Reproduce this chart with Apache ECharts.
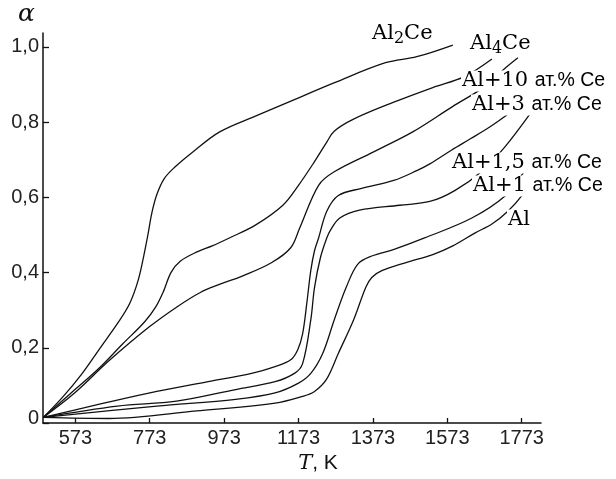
<!DOCTYPE html>
<html>
<head>
<meta charset="utf-8">
<script src="https://cdn.jsdelivr.net/npm/echarts@6/dist/echarts.min.js"></script>
<style>
  html, body { margin: 0; padding: 0; background: #fff; }
  #chart { width: 616px; height: 479px; }
</style>
</head>
<body>
<div id="chart"></div>
<script>
// ticks
var xTicks = [573, 773, 973, 1173, 1373, 1573, 1773];
var yTicks = [0, 0.2, 0.4, 0.6, 0.8, 1.0];

// curves, [T (K), alpha]
var al2Ce = [[487,0.015],[540,0.07],[590,0.13],[640,0.2],[690,0.27],[720,0.32],[742,0.38],[756,0.44],[768,0.5],[779,0.56],[793,0.61],[812,0.65],[840,0.68],[888,0.72],[961,0.774],[1057,0.816],[1162,0.86],[1270,0.905],[1407,0.958],[1491,0.974],[1588,1.005]];
var al4Ce = [[487,0.015],[557,0.076],[633,0.142],[700,0.21],[760,0.27],[790,0.31],[810,0.35],[830,0.4],[855,0.43],[900,0.455],[941,0.471],[987,0.492],[1057,0.526],[1131,0.579],[1173,0.632],[1216,0.695],[1249,0.747],[1269,0.776],[1321,0.808],[1429,0.853],[1534,0.892],[1619,0.921],[1693,0.968]];
var al10 = [[487,0.015],[570,0.079],[664,0.166],[771,0.255],[845,0.308],[909,0.347],[962,0.369],[1025,0.392],[1100,0.426],[1152,0.466],[1176,0.518],[1227,0.632],[1269,0.668],[1375,0.721],[1480,0.774],[1588,0.842],[1666,0.889],[1700,0.918],[1733,0.947],[1763,0.971]];
var al3 = [[487,0.015],[638,0.05],[792,0.084],[930,0.11],[1047,0.132],[1110,0.15],[1152,0.168],[1171,0.195],[1184,0.237],[1195,0.316],[1206,0.405],[1216,0.458],[1227,0.492],[1249,0.563],[1280,0.605],[1343,0.624],[1429,0.645],[1491,0.671],[1526,0.689],[1585,0.726],[1634,0.755],[1687,0.787],[1736,0.821]];
var al15 = [[487,0.015],[686,0.045],[845,0.058],[1004,0.089],[1110,0.11],[1162,0.132],[1184,0.158],[1206,0.274],[1216,0.36],[1232,0.44],[1249,0.492],[1259,0.513],[1284,0.545],[1337,0.566],[1445,0.579],[1526,0.589],[1593,0.618],[1668,0.671],[1728,0.734],[1795,0.821]];
var al1 = [[487,0.015],[792,0.045],[1004,0.063],[1110,0.08],[1173,0.106],[1206,0.132],[1238,0.185],[1269,0.274],[1301,0.36],[1332,0.422],[1370,0.444],[1428,0.461],[1512,0.492],[1639,0.545],[1730,0.605],[1776,0.663],[1790,0.687]];
var al = [[487,0.015],[664,0.012],[899,0.032],[1110,0.053],[1184,0.071],[1216,0.084],[1248,0.116],[1280,0.185],[1321,0.274],[1354,0.361],[1370,0.387],[1397,0.405],[1460,0.426],[1534,0.448],[1588,0.471],[1647,0.505],[1693,0.529],[1736,0.563],[1774,0.605],[1782,0.624]];

var serif = 'DejaVu Serif';
var sans = 'Liberation Sans';

var chart = echarts.init(document.getElementById('chart'));

function curve(data) {
  return {
    type: 'line',
    data: data,
    showSymbol: false,
    smooth: 0.35,
    lineStyle: { color: '#111', width: 1.3 },
    silent: true
  };
}

var rich = {
  s: { fontFamily: serif, fontSize: 21, color: '#111' },
  sub: { fontFamily: serif, fontSize: 16, color: '#111', padding: [9, 0, 0, 0] },
  a: { fontFamily: sans, fontSize: 19.5, color: '#111' }
};

function label(x, y, text) {
  return {
    type: 'text',
    x: x, y: y, z: 100,
    style: {
      text: text, rich: rich, verticalAlign: 'middle',
      backgroundColor: '#fff', padding: [0, 1]
    }
  };
}

var option = {
  animation: false,
  backgroundColor: '#fff',
  grid: { left: 43, right: 75, top: 33, bottom: 52 },
  xAxis: {
    type: 'value', min: 486, max: 1825,
    name: '{t|T}{k|, K}',
    nameLocation: 'middle', nameGap: 30,
    nameTextStyle: {
      padding: [0, 0, 0, 52],
      rich: {
        t: { fontFamily: serif, fontStyle: 'italic', fontSize: 21, color: '#111' },
        k: { fontFamily: sans, fontSize: 21, color: '#111' }
      }
    },
    axisLine: { lineStyle: { color: '#111', width: 1.5 } },
    axisTick: { inside: true, length: 5, customValues: xTicks, lineStyle: { color: '#111', width: 1.3 } },
    axisLabel: {
      customValues: xTicks, fontFamily: sans, fontSize: 20, color: '#222', margin: 5,
      formatter: function (v) { return String(v); }
    },
    splitLine: { show: false }
  },
  yAxis: {
    type: 'value', min: 0, max: 1.037,
    name: 'α', nameLocation: 'end', nameGap: 6,
    nameTextStyle: { fontFamily: serif, fontStyle: 'italic', fontSize: 25, color: '#111', align: 'right', padding: [0, 8, 0, 0] },
    axisLine: { show: true, lineStyle: { color: '#111', width: 1.5 } },
    axisTick: { show: true, inside: true, length: 6, customValues: yTicks, lineStyle: { color: '#111', width: 1.3 } },
    axisLabel: {
      customValues: yTicks, fontFamily: sans, fontSize: 20, color: '#222', margin: 4,
      formatter: function (v) { return v === 0 ? '{z|0}' : v.toFixed(1).replace('.', ','); },
      rich: { z: { fontFamily: sans, fontSize: 20, color: '#222', padding: [0, 0, 10, 0] } }
    },
    splitLine: { show: false }
  },
  series: [curve(al2Ce), curve(al4Ce), curve(al10), curve(al3), curve(al15), curve(al1), curve(al)],
  graphic: [
    label(371, 34, '{s|Al}{sub|2}{s|Ce}'),
    label(469, 44, '{s|Al}{sub|4}{s|Ce}'),
    label(461, 81, '{s|Al+10 }{a|ат.% Ce}'),
    label(471, 105, '{s|Al+3 }{a|ат.% Ce}'),
    label(451, 163, '{s|Al+1,5 }{a|ат.% Ce}'),
    label(472, 186, '{s|Al+1 }{a|ат.% Ce}'),
    label(507, 220, '{s|Al}')
  ]
};

chart.setOption(option);
</script>
</body>
</html>
